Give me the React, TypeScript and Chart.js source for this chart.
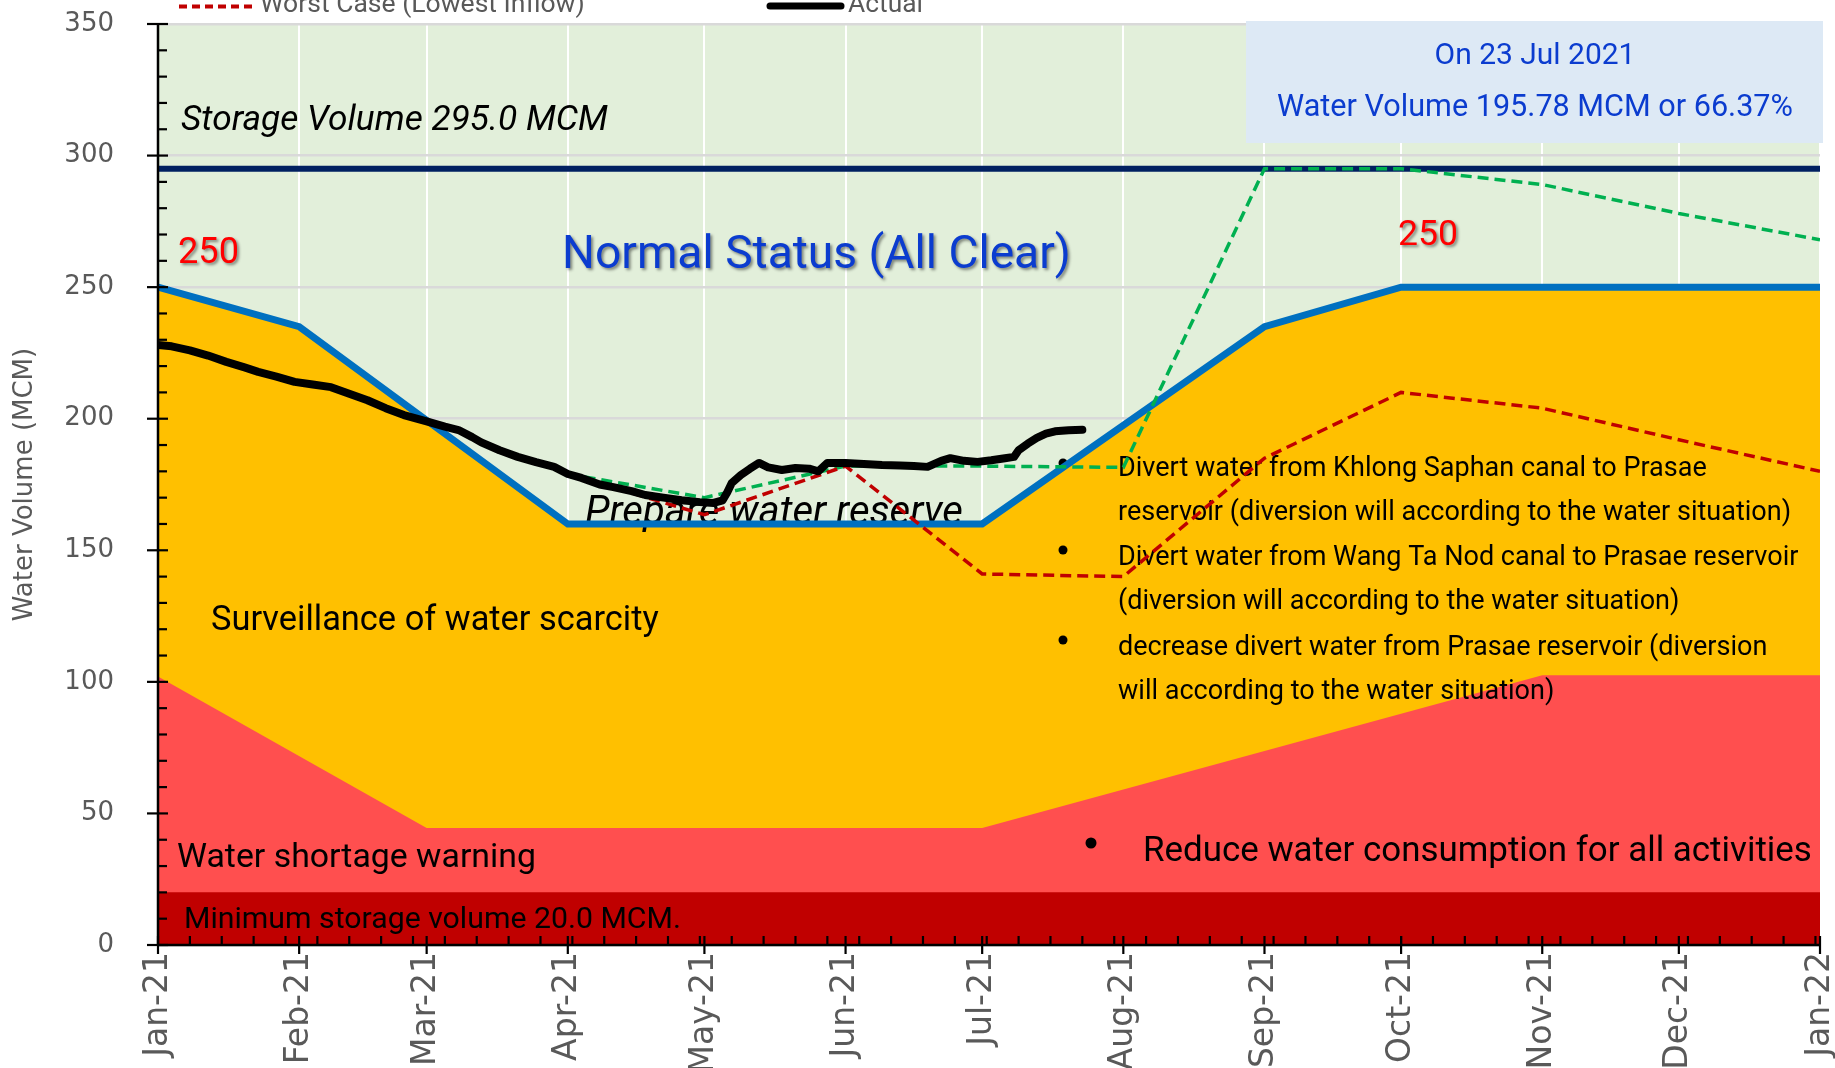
import React, { useEffect, useRef } from "react";
import { Chart, registerables } from "chart.js";

Chart.register(...registerables);

// ---- Data ----
const monthDays = [0, 31, 59, 90, 120, 151, 181, 212, 243, 273, 304, 334, 365];
const monthLabels = ["Jan-21", "Feb-21", "Mar-21", "Apr-21", "May-21", "Jun-21", "Jul-21", "Aug-21", "Sep-21", "Oct-21", "Nov-21", "Dec-21", "Jan-22"];
const yTickValues = [0, 50, 100, 150, 200, 250, 300, 350];

const actualDays = [0, 3, 7, 11, 15, 19, 22, 26, 30, 34, 38, 42, 46, 50, 54, 59, 63, 66, 69, 71, 75, 79, 83, 87, 90, 93, 97, 100, 104, 107, 111, 115, 119, 122, 124, 125, 126, 128, 130, 132, 134, 137, 140, 143, 145, 147, 151, 155, 159, 163, 166, 169, 172, 174, 177, 180, 183, 186, 188, 189, 191, 193, 195, 197, 200, 203];
const actualValues = [228, 227.5, 226, 224, 221.6, 219.5, 217.8, 216, 214, 213, 212, 209.5, 207, 204, 201.4, 199, 197, 195.7, 193, 191, 188, 185.5, 183.5, 181.7, 179, 177.5, 175, 174, 172.5, 171, 170, 169, 168.3, 168, 169, 172, 175.6, 178.6, 181, 183.2, 181.5, 180.5, 181.3, 181, 180, 183.2, 183.2, 182.8, 182.4, 182.2, 182, 181.7, 184, 185, 184, 183.6, 184.2, 185, 185.5, 188, 190.5, 192.7, 194.3, 195.2, 195.6, 195.78];

const bestDays = [90, 120, 151, 181, 212, 243, 273, 304, 334, 365];
const bestValues = [179, 170, 182, 182, 181.5, 295, 295, 289, 278, 268];

const worstDays = [90, 120, 151, 181, 212, 243, 273, 304, 334, 365];
const worstValues = [179, 163.5, 182, 141, 140, 185, 210, 204, 192, 180];

const upperDays = [0, 31, 90, 181, 243, 273, 365];
const upperValues = [250, 235, 160, 160, 235, 250, 250];

const lowerDays = [0, 59, 181, 304, 365];
const lowerValues = [102, 44.5, 44.5, 102.5, 102.5];

const storageDays = [0, 365];
const storageValues = [295, 295];

const minDays = [0, 365];
const minValues = [20, 20];

const bulletLines = [
  "Divert water from Khlong Saphan canal to Prasae",
  "reservoir (diversion will according to the water situation)",
  "Divert water from Wang Ta Nod canal to Prasae reservoir",
  "(diversion will according to the water situation)",
  "decrease divert water from Prasae reservoir (diversion",
  "will according to the water situation)",
];

const zip = (xs: number[], ys: number[]) => xs.map((x, i) => ({ x, y: ys[i] }));

const FONT = "Roboto";
const DY = 4;

function fitText(
  ctx: CanvasRenderingContext2D,
  text: string,
  x: number,
  y: number,
  width: number,
  style: string,
  color: string,
  align: CanvasTextAlign = "left",
  baseline: CanvasTextBaseline = "middle",
  shadow = false
) {
  ctx.save();
  ctx.font = `${style} 100px ${FONT}`;
  const w = ctx.measureText(text).width;
  const size = (100 * width) / w;
  ctx.font = `${style} ${size}px ${FONT}`;
  ctx.textAlign = align;
  ctx.textBaseline = baseline;
  if (shadow) {
    ctx.shadowColor = "rgba(0,0,0,0.45)";
    ctx.shadowOffsetX = 2;
    ctx.shadowOffsetY = 2;
    ctx.shadowBlur = 3;
  }
  ctx.fillStyle = color;
  ctx.fillText(text, x, baseline === "middle" ? y + DY : y);
  ctx.restore();
  return size;
}

const zeroPad = (scale: any) => {
  scale.paddingTop = 0;
  scale.paddingBottom = 0;
  scale.paddingLeft = 0;
  scale.paddingRight = 0;
};

const overlayPlugin = {
  id: "overlay",
  beforeDraw(chart: any) {
    const { ctx, chartArea } = chart;
    ctx.save();
    ctx.fillStyle = "#e2efda";
    ctx.fillRect(chartArea.left, chartArea.top, chartArea.right - chartArea.left, chartArea.bottom - chartArea.top);
    ctx.restore();
  },
  afterDatasetDraw(chart: any, args: any) {
    if (args.index !== 7) return;
    const ctx: CanvasRenderingContext2D = chart.ctx;
    fitText(ctx, "Storage Volume 295.0 MCM", 181, 117, 427, "italic 400", "#000");
    fitText(ctx, "250", 178, 250, 61, "400", "#ff0000", "left", "middle", true);
    fitText(ctx, "Normal Status (All Clear)", 562, 252, 509, "400", "#0b3ccf", "left", "middle", true);
    fitText(ctx, "250", 1398, 232, 60, "400", "#ff0000", "left", "middle", true);
    fitText(ctx, "Prepare water reserve", 585, 510, 378, "italic 400", "#000");
    fitText(ctx, "Surveillance of water scarcity", 211, 617, 448, "400", "#000");
    fitText(ctx, "Water shortage warning", 177, 855, 359, "400", "#000");
    fitText(ctx, "Minimum storage volume 20.0 MCM.", 184, 916, 497, "400", "#000");

    // bullet block
    ctx.save();
    ctx.font = `400 100px ${FONT}`;
    const w0 = ctx.measureText(bulletLines[0]).width;
    const size = (100 * 589) / w0;
    ctx.font = `400 ${size}px ${FONT}`;
    ctx.fillStyle = "#000";
    ctx.textBaseline = "middle";
    ctx.textAlign = "left";
    const lineYs = [466, 510, 555, 599, 645, 689];
    bulletLines.forEach((t, i) => ctx.fillText(t, 1118, lineYs[i] + 3));
    [463, 550, 640].forEach((by) => {
      ctx.beginPath();
      ctx.arc(1063, by, 4.5, 0, Math.PI * 2);
      ctx.fill();
    });
    ctx.beginPath();
    ctx.arc(1091, 843, 5.5, 0, Math.PI * 2);
    ctx.fill();
    ctx.restore();
    fitText(ctx, "Reduce water consumption for all activities", 1143, 848, 669, "400", "#000");
  },
  afterDraw(chart: any) {
    const ctx: CanvasRenderingContext2D = chart.ctx;
    const xs = chart.scales.x;
    const ys = chart.scales.y;
    const left = chart.chartArea.left;
    const right = chart.chartArea.right;
    const top = chart.chartArea.top;
    const bottom = chart.chartArea.bottom;

    ctx.save();
    ctx.strokeStyle = "#000";
    ctx.lineWidth = 2.5;
    ctx.beginPath();
    ctx.moveTo(left, top);
    ctx.lineTo(left, bottom);
    ctx.stroke();
    ctx.beginPath();
    ctx.moveTo(left, bottom);
    ctx.lineTo(right, bottom);
    ctx.stroke();

    ctx.lineWidth = 2.2;
    for (let v = 0; v <= 350; v += 10) {
      const py = ys.getPixelForValue(v);
      ctx.beginPath();
      if (v % 50 === 0) {
        ctx.moveTo(left - 11, py);
        ctx.lineTo(left + 10, py);
      } else {
        ctx.moveTo(left, py);
        ctx.lineTo(left + 9, py);
      }
      ctx.stroke();
    }
    for (let d = 7; d < 365; d += 7) {
      const px = xs.getPixelForValue(d);
      ctx.beginPath();
      ctx.moveTo(px, bottom);
      ctx.lineTo(px, bottom - 9);
      ctx.stroke();
    }
    monthDays.forEach((d) => {
      const px = xs.getPixelForValue(d);
      ctx.beginPath();
      ctx.moveTo(px, bottom - 9);
      ctx.lineTo(px, bottom + 9);
      ctx.stroke();
    });
    ctx.restore();

    ctx.save();
    ctx.fillStyle = "#dde9f5";
    ctx.fillRect(1246, 21, 577, 122);
    ctx.restore();
    fitText(ctx, "On 23 Jul 2021", 1535, 53, 201, "400", "#0b3ccf", "center");
    fitText(ctx, "Water Volume 195.78 MCM or 66.37%", 1535, 104, 516, "400", "#0b3ccf", "center");

    ctx.save();
    ctx.strokeStyle = "#c00000";
    ctx.lineWidth = 4;
    ctx.setLineDash([8, 5]);
    ctx.beginPath();
    ctx.moveTo(179, 6.5);
    ctx.lineTo(252, 6.5);
    ctx.stroke();
    ctx.setLineDash([]);
    ctx.strokeStyle = "#000";
    ctx.lineWidth = 7;
    ctx.lineCap = "round";
    ctx.beginPath();
    ctx.moveTo(770, 6);
    ctx.lineTo(841, 6);
    ctx.stroke();
    ctx.restore();
    fitText(ctx, "Worst Case (Lowest Inflow)", 260, 12, 325, "400", "#595959", "left", "alphabetic");
    fitText(ctx, "Actual", 848, 12, 75, "400", "#595959", "left", "alphabetic");
  },
};

export default function App() {
  const canvasRef = useRef<HTMLCanvasElement | null>(null);

  useEffect(() => {
    document.body.style.margin = "0";
    const canvas = canvasRef.current;
    if (!canvas) return;
    const chart = new Chart(canvas, {
      type: "line",
      data: {
        datasets: [
          {
            label: "Actual",
            data: zip(actualDays, actualValues),
            borderColor: "#000000",
            borderWidth: 8,
            pointRadius: 0,
            borderCapStyle: "round",
            borderJoinStyle: "round",
            fill: false,
            order: 0,
          },
          {
            label: "Worst Case (Lowest Inflow)",
            data: zip(worstDays, worstValues),
            borderColor: "#c00000",
            borderWidth: 3.5,
            borderDash: [11, 6],
            pointRadius: 0,
            fill: false,
            order: 1,
          },
          {
            label: "Best Case (Highest Inflow)",
            data: zip(bestDays, bestValues),
            borderColor: "#00b050",
            borderWidth: 3.5,
            borderDash: [11, 6],
            pointRadius: 0,
            fill: false,
            order: 2,
          },
          {
            label: "Upper Rule Curve",
            data: zip(upperDays, upperValues),
            borderColor: "#0070c0",
            borderWidth: 7,
            borderCapStyle: "round",
            pointRadius: 0,
            fill: false,
            order: 3,
          },
          {
            label: "Storage Volume",
            data: zip(storageDays, storageValues),
            borderColor: "#002060",
            borderWidth: 6,
            borderCapStyle: "round",
            pointRadius: 0,
            fill: false,
            order: 4,
          },
          {
            label: "Surveillance zone",
            data: zip(upperDays, upperValues),
            borderWidth: 0,
            borderColor: "rgba(0,0,0,0)",
            backgroundColor: "#ffc000",
            pointRadius: 0,
            fill: "origin",
            order: 10,
          },
          {
            label: "Lower Rule Curve",
            data: zip(lowerDays, lowerValues),
            borderWidth: 0,
            borderColor: "rgba(0,0,0,0)",
            backgroundColor: "#ff4f4f",
            pointRadius: 0,
            fill: "origin",
            order: 9,
          },
          {
            label: "Minimum storage",
            data: zip(minDays, minValues),
            borderWidth: 0,
            borderColor: "rgba(0,0,0,0)",
            backgroundColor: "#c00000",
            pointRadius: 0,
            fill: "origin",
            order: 8,
          },
        ],
      },
      options: {
        animation: false,
        responsive: false,
        events: [],
        layout: { padding: { top: 24, right: 15, left: 0, bottom: 0 } },
        plugins: {
          legend: { display: false },
          tooltip: { enabled: false },
        },
        scales: {
          x: {
            type: "linear",
            min: 0,
            max: 365,
            afterBuildTicks: (scale: any) => {
              scale.ticks = monthDays.map((v) => ({ value: v }));
            },
            afterFit: (scale: any) => {
              scale.height = 123;
              zeroPad(scale);
            },
            ticks: {
              autoSkip: false,
              minRotation: 90,
              maxRotation: 90,
              padding: 7,
              color: "#595959",
              font: { family: "DejaVu Sans", size: 33 },
              callback: (value: any) => {
                const i = monthDays.indexOf(Number(value));
                return i >= 0 ? monthLabels[i] : "";
              },
            },
            grid: { color: "#ffffff", lineWidth: 2, drawTicks: false },
            border: { display: false },
          },
          y: {
            type: "linear",
            min: 0,
            max: 350,
            afterBuildTicks: (scale: any) => {
              scale.ticks = yTickValues.map((v) => ({ value: v }));
            },
            afterFit: (scale: any) => {
              scale.width = 158;
              zeroPad(scale);
            },
            ticks: {
              padding: 44,
              color: "#595959",
              font: { family: "DejaVu Sans", size: 26 },
            },
            grid: { color: "#d9d9d9", lineWidth: 2.5, drawTicks: false },
            border: { display: false },
            title: {
              display: true,
              text: "Water Volume (MCM)",
              color: "#595959",
              font: { family: "DejaVu Sans", size: 26 },
              padding: { top: 10, bottom: 0 },
            },
          },
        },
      },
      plugins: [overlayPlugin],
    });
    return () => chart.destroy();
  }, []);

  return (
    <canvas
      ref={canvasRef}
      width={1835}
      height={1068}
      style={{ display: "block", width: "1835px", height: "1068px" }}
    />
  );
}
